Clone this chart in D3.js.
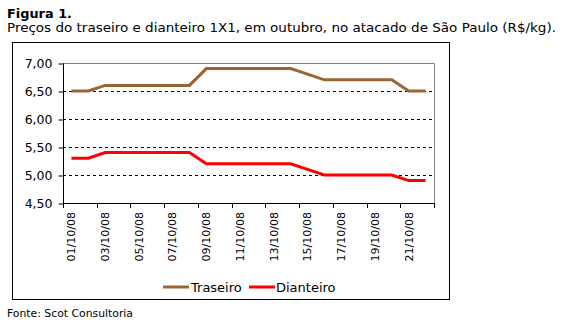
<!DOCTYPE html>
<html><head><meta charset="utf-8">
<script src="https://cdn.jsdelivr.net/npm/d3@7/dist/d3.min.js"></script>
<style>body{margin:0;background:#fff;}svg{display:block;font-family:"DejaVu Sans",Verdana,sans-serif;}</style>
</head><body><svg id="c" width="566" height="323"></svg>
<script>
const categories = ["01/10/08","02/10/08","03/10/08","04/10/08","05/10/08","06/10/08","07/10/08","08/10/08","09/10/08","10/10/08","11/10/08","12/10/08","13/10/08","14/10/08","15/10/08","16/10/08","17/10/08","18/10/08","19/10/08","20/10/08","21/10/08","22/10/08"];
const traseiro = [6.50,6.50,6.60,6.60,6.60,6.60,6.60,6.60,6.90,6.90,6.90,6.90,6.90,6.90,6.80,6.70,6.70,6.70,6.70,6.70,6.50,6.50];
const dianteiro = [5.30,5.30,5.40,5.40,5.40,5.40,5.40,5.40,5.20,5.20,5.20,5.20,5.20,5.20,5.10,5.00,5.00,5.00,5.00,5.00,4.90,4.90];
const yTicks = [4.50,5.00,5.50,6.00,6.50,7.00];
const seriesNames = ["Traseiro","Dianteiro"];
const colors = ["#996633","#ff0000"];

const svg = d3.select("#c");
const L=63, R=434, T=63, B=203;
const x = d3.scaleBand().domain(categories).range([L,R]).padding(0);
const y = d3.scaleLinear().domain([4.5,7.0]).range([B,T]);
const fmt = v => d3.format(".2f")(v).replace(".",",");

// titles
svg.append("text").attr("x",7).attr("y",18).attr("font-weight","bold").attr("font-size",13)
  .attr("textLength",65).attr("lengthAdjust","spacingAndGlyphs").text("Figura 1.");
svg.append("text").attr("x",7).attr("y",32).attr("font-size",13)
  .attr("textLength",549).attr("lengthAdjust","spacingAndGlyphs")
  .text("Preços do traseiro e dianteiro 1X1, em outubro, no atacado de São Paulo (R$/kg).");
svg.append("text").attr("x",7).attr("y",317).attr("font-size",11)
  .attr("textLength",126).attr("lengthAdjust","spacingAndGlyphs").text("Fonte: Scot Consultoria");

// outer box
svg.append("rect").attr("x",12.5).attr("y",42.5).attr("width",437).attr("height",257).attr("fill","none").attr("stroke","#000");

// gridlines
svg.append("g").selectAll("line").data(yTicks.filter(v=>v>4.5&&v<7)).join("line")
  .attr("x1",L).attr("x2",R).attr("y1",d=>Math.round(y(d))+0.5).attr("y2",d=>Math.round(y(d))+0.5)
  .attr("stroke","#000").attr("stroke-dasharray","3,3");
// plot border top/right
svg.append("path").attr("d",`M${L},${T+0.5}H${R+0.5}V${B}`).attr("fill","none").attr("stroke","#808080");

// y axis
const yAxis = d3.axisLeft(y).tickValues(yTicks).tickFormat(fmt).tickSize(5).tickPadding(6);
const gy = svg.append("g").attr("transform",`translate(${L+0.5},0.5)`).call(yAxis);
gy.selectAll("text").attr("font-size",12.5).attr("font-family","DejaVu Sans").attr("fill","#000");
gy.select(".domain").attr("d",`M0,${T}V${B}`);

// x axis
const bw = x.bandwidth();
const tickPos = d3.range(0,categories.length+1,2).map(i=>L+i*bw);
svg.append("line").attr("x1",L).attr("x2",R+1).attr("y1",B+0.5).attr("y2",B+0.5).attr("stroke","#000");
svg.append("g").selectAll("line").data(tickPos).join("line")
  .attr("x1",d=>Math.round(d)+0.5).attr("x2",d=>Math.round(d)+0.5).attr("y1",B).attr("y2",B+5).attr("stroke","#000");
svg.append("g").selectAll("text").data(categories.filter((d,i)=>i%2===0)).join("text")
  .attr("transform",d=>`translate(${x(d)+bw/2},${B+9}) rotate(-90)`)
  .attr("text-anchor","end").attr("dy","0.35em").attr("font-size",11).text(d=>d);

// lines
const line = d3.line().x((d,i)=>x(categories[i])+bw/2).y(d=>y(d));
[traseiro,dianteiro].forEach((s,k)=>{
  svg.append("path").datum(s).attr("d",line).attr("fill","none").attr("stroke",colors[k]).attr("stroke-width",3);
});

// legend
const lg = [{x1:163,x2:189,tx:191},{x1:249,x2:275,tx:276}];
seriesNames.forEach((n,k)=>{
  svg.append("line").attr("x1",lg[k].x1).attr("x2",lg[k].x2).attr("y1",287).attr("y2",287).attr("stroke",colors[k]).attr("stroke-width",3);
  svg.append("text").attr("x",lg[k].tx).attr("y",291.5).attr("font-size",13).text(n);
});
</script></body></html>
